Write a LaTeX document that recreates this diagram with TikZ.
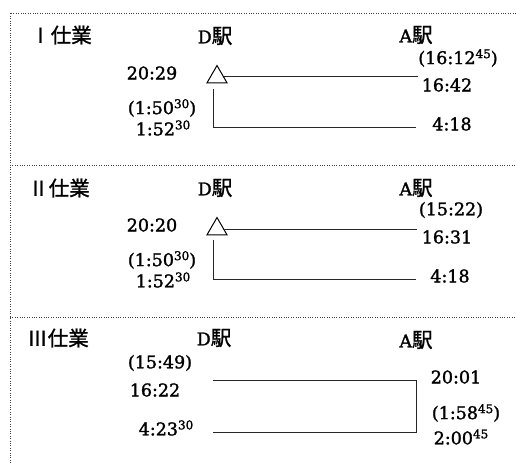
\documentclass[tikz,border=0pt]{standalone}
\usepackage{fontspec}
\setmainfont{DejaVu Serif}[FakeBold=1.6]
\newfontfamily\jpf{Noto Sans CJK JP}[FakeBold=1.2]
\usetikzlibrary{shapes.geometric}
\newcommand\hsup[1]{\raisebox{6pt}{\fontsize{12}{12}\selectfont #1}}
\newcommand\jj[1]{{\jpf\fontsize{20.5}{21}\selectfont #1}}
\begin{document}
\begin{tikzpicture}[x=1pt,y=-1pt,
  font=\fontsize{17.5}{20}\selectfont,
  lbl/.style={inner sep=0pt, anchor=center},
  conn/.style={line width=1pt, draw=black!85},
  frame/.style={dash pattern=on 1pt off 1.4pt, line width=1pt, draw=black!75},
  tri/.style={draw, regular polygon, regular polygon sides=3, minimum size=23pt, inner sep=0pt, line width=1pt}]
\useasboundingbox (0,0) rectangle (516,464);
% frame
\coordinate (ftl) at (10,13);
\coordinate (ftr) at (516,13);
\coordinate (fbl) at (10,464);
\coordinate (d1l) at (10,165);
\coordinate (d1r) at (516,165);
\coordinate (d2l) at (10,317);
\coordinate (d2r) at (516,317);
\draw[frame] (ftr) -- (ftl) -- (fbl);
\draw[frame] (d1l) -- (d1r);
\draw[frame] (d2l) -- (d2r);

% ---- panel I
\node[lbl] (t1) at (61,35) {\jj{Ⅰ仕業}};
\node[lbl] (d1) at (215,36) {D\jj{駅}};
\node[lbl] (a1) at (416,35) {A\jj{駅}};
\node[lbl] (p1a) at (458,58) {(16:12\hsup{45})};
\node[lbl] (p1b) at (447,85) {16:42};
\node[lbl] (p1c) at (452,124) {4:18};
\node[lbl] (p1d) at (152,73) {20:29};
\node[lbl] (p1e) at (162,108) {(1:50\hsup{30})};
\node[lbl] (p1f) at (163,128) {1:52\hsup{30}};
\node[tri] (tr1) at (217,77) {};
\coordinate (a1t) at (418,76);
\coordinate (v1) at (213,89);
\coordinate (a1b) at (416,127);
\draw[conn] (tr1.east |- a1t) -- (a1t);
\draw[conn] (v1) |- (a1b);

% ---- panel II
\node[lbl] (t2) at (59,188) {\jj{Ⅱ仕業}};
\node[lbl] (d2) at (215,188) {D\jj{駅}};
\node[lbl] (a2) at (416,188) {A\jj{駅}};
\node[lbl] (p2a) at (451,210) {(15:22)};
\node[lbl] (p2b) at (447,237) {16:31};
\node[lbl] (p2c) at (450,276) {4:18};
\node[lbl] (p2d) at (152,225) {20:20};
\node[lbl] (p2e) at (162,260) {(1:50\hsup{30})};
\node[lbl] (p2f) at (163,280) {1:52\hsup{30}};
\node[tri] (tr2) at (217,229) {};
\coordinate (a2t) at (417,229);
\coordinate (v2) at (213,240);
\coordinate (a2b) at (416,279);
\draw[conn] (tr2.east |- a2t) -- (a2t);
\draw[conn] (v2) |- (a2b);

% ---- panel III
\node[lbl] (t3) at (58,338) {\jj{Ⅲ仕業}};
\node[lbl] (d3) at (214,338) {D\jj{駅}};
\node[lbl] (a3) at (416,340) {A\jj{駅}};
\node[lbl] (p3a) at (160,363) {(15:49)};
\node[lbl] (p3b) at (155,390) {16:22};
\node[lbl] (p3c) at (166,428) {4:23\hsup{30}};
\node[lbl] (p3d) at (456,377) {20:01};
\node[lbl] (p3e) at (466,413) {(1:58\hsup{45})};
\node[lbl] (p3f) at (461,437) {2:00\hsup{45}};
\coordinate (d3t) at (213,380);
\coordinate (a3t) at (416,380);
\coordinate (a3b) at (416,432);
\coordinate (d3b) at (213,432);
\draw[conn] (d3t) -- (a3t) -- (a3b) -- (d3b);
\end{tikzpicture}
\end{document}
